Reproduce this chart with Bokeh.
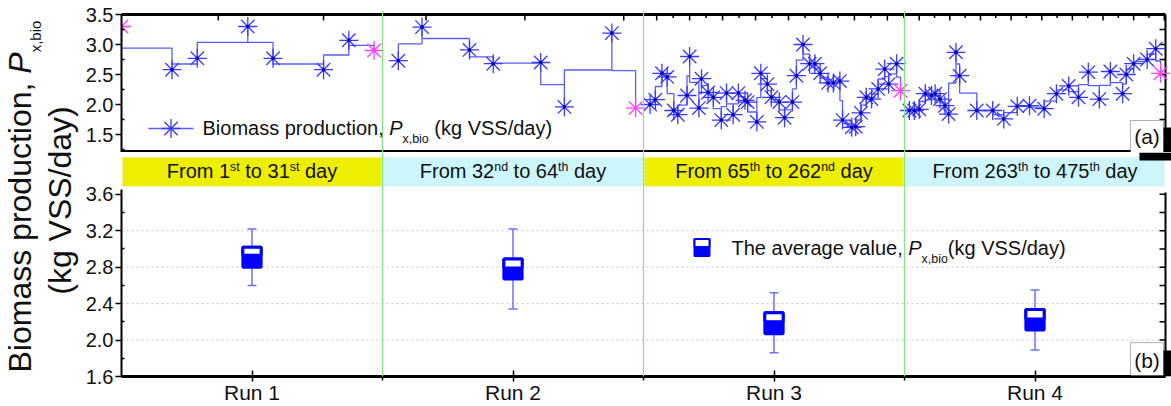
import math
from bokeh.plotting import figure
from bokeh.models import (Range1d, LinearAxis, FixedTicker, Span, BoxAnnotation, Label)
from bokeh.layouts import row, column
from bokeh.embed import file_html
from bokeh.resources import INLINE

# ---------------- data ----------------
RUN_NAMES = ["Run 1", "Run 2", "Run 3", "Run 4"]
RUN_BOUNDS = [1, 32, 65, 263, 476]          # day boundaries of each run
BAND_TEXT = [
    [("From 1", "n"), ("st", "sup"), (" to 31", "n"), ("st", "sup"), (" day", "n")],
    [("From 32", "n"), ("nd", "sup"), (" to 64", "n"), ("th", "sup"), (" day", "n")],
    [("From 65", "n"), ("th", "sup"), (" to 262", "n"), ("nd", "sup"), (" day", "n")],
    [("From 263", "n"), ("th", "sup"), (" to 475", "n"), ("th", "sup"), (" day", "n")],
]

run1_day = [1, 7, 10, 16, 19, 25, 28, 31]
run1_val = [3.30, 2.58, 2.77, 3.30, 2.77, 2.58, 3.07, 2.90]
run2_day = [34, 37, 43, 46, 52, 55, 61, 64]
run2_val = [2.73, 3.29, 2.91, 2.68, 2.70, 1.96, 3.19, 1.94]
run3_day = [70, 74, 79, 83, 88, 91, 98, 100, 107, 109, 114, 118, 124, 128, 133, 137,
            142, 144, 151, 154, 159, 162, 168, 172, 178, 181, 186, 191, 195, 199,
            205, 209, 214, 216, 223, 226, 230, 234, 238, 243, 248, 251, 257, 260]
run3_val = [2.00, 2.08, 2.52, 2.46, 1.90, 1.83, 2.15, 2.80, 1.94, 2.43, 2.20, 2.12,
            1.74, 2.19, 1.83, 2.19, 2.07, 2.04, 1.71, 2.52, 2.34, 2.12, 2.04, 1.78,
            2.04, 2.48, 3.00, 2.68, 2.68, 2.52, 2.36, 2.36, 2.39, 1.74, 1.62, 1.63,
            1.86, 2.12, 2.09, 2.26, 2.59, 2.34, 2.68, 2.23]
run4_day = [267, 271, 275, 280, 285, 288, 292, 296, 299, 305, 308, 322, 335, 344,
            355, 365, 377, 387, 397, 405, 413, 422, 431, 441, 444, 450, 461, 468, 472]
run4_val = [1.90, 1.90, 1.92, 2.18, 2.15, 2.18, 2.09, 1.98, 1.84, 2.87, 2.48, 1.90,
            1.90, 1.76, 1.97, 1.98, 1.93, 2.18, 2.31, 2.12, 2.54, 2.09, 2.55, 2.18,
            2.50, 2.68, 2.75, 2.93, 2.52]

# box statistics of the average value per run
box_low = [2.60, 2.34, 1.86, 1.89]
box_q1 = [2.80, 2.67, 2.07, 2.11]
box_mid = [2.93, 2.79, 2.20, 2.23]
box_q3 = [3.02, 2.89, 2.30, 2.335]
box_high = [3.22, 3.22, 2.52, 2.55]

TOP_Y_TICKS = [1.5, 2.0, 2.5, 3.0, 3.5]
TOP_Y_LABELS = ["1.5", "2.0", "2.5", "3.0", "3.5"]
TOP_Y_RIGHT_TICKS = [1.25, 1.5, 1.75, 2.0, 2.25, 2.5, 2.75, 3.0, 3.25]
BOT_Y_TICKS = [1.6, 2.0, 2.4, 2.8, 3.2, 3.6]
BOT_Y_LABELS = ["1.6", "2.0", "2.4", "2.8", "3.2", "3.6"]
BOT_Y_RIGHT_TICKS = [1.8, 2.0, 2.2, 2.4, 2.6, 2.8, 3.0, 3.2, 3.4, 3.6]
BOT_GRID = [2.0, 2.4, 2.8, 3.2]
TOP_X_TICK_STEP = 12.5     # days between ticks of the top (day) axis

# ---------------- helpers ----------------
FONT = "Liberation Sans"
ARIAL = {' ': 278, '(': 333, ')': 333, ',': 278, '.': 278, '/': 278, 'B': 667, 'F': 611,
         'P': 667, 'R': 722, 'S': 667, 'T': 611, 'V': 667, 'a': 556, 'b': 556, 'c': 500,
         'd': 556, 'e': 556, 'g': 556, 'h': 556, 'i': 222, 'k': 500, 'l': 222, 'm': 833,
         'n': 556, 'o': 556, 'p': 556, 'r': 333, 's': 500, 't': 278, 'u': 556, 'v': 500,
         'x': 500, 'y': 500}
BASE_FIX = 0.36     # empirical baseline correction (fraction of font size)


def tw(s, size):
    return sum(ARIAL.get(c, 556) for c in s) * size / 1000.0


def rich(fig, x0, y0, pieces, size, xr="default", yr="default", align="left",
         vertical=False, sub_drop=None, sup_rise=None, small=0.62, sub_size=None):
    if sub_drop is None:
        sub_drop = 0.42 * size
    if sup_rise is None:
        sup_rise = 0.36 * size
    if sub_size is None:
        sub_size = size * small
    sizes = [sub_size if k in ("sub", "sup") else size for _, k in pieces]
    total = sum(tw(t, s) for (t, _), s in zip(pieces, sizes))
    p = x0 if not vertical else y0
    if align == "center":
        p -= total / 2
    for (t, k), s in zip(pieces, sizes):
        lead = len(t) - len(t.lstrip(" "))
        body = t.strip(" ")
        start = p + tw(" " * lead, s)
        off = sub_drop if k == "sub" else (-sup_rise if k == "sup" else 0)
        off -= BASE_FIX * s
        kw = dict(text=body, text_font=FONT, text_font_size=f"{s:.1f}px",
                  text_font_style="italic" if k == "i" else "normal",
                  text_baseline="alphabetic", text_align="left", text_color="#111111")
        if xr != "default":
            kw["x_range_name"] = xr
        if yr != "default":
            kw["y_range_name"] = yr
        if vertical:
            fig.add_layout(Label(x=x0 + off, y=start, angle=math.pi / 2, **kw))
        else:
            fig.add_layout(Label(x=start, y=y0 + off, **kw))
        p += tw(t, s)


def pos(day, k):
    return k + (day - RUN_BOUNDS[k]) / (RUN_BOUNDS[k + 1] - RUN_BOUNDS[k])


def step_vcenter(xs, ys):
    px, py = [xs[0]], [ys[0]]
    for i in range(len(xs) - 1):
        m = (ys[i] + ys[i + 1]) / 2.0
        px += [xs[i], xs[i + 1], xs[i + 1]]
        py += [m, m, ys[i + 1]]
    return px, py


# layout constants (page pixels)
TITLE_W = 82
PX0, PX1, PXE = 121, 1165, 1171
TOP_FT, TOP_Y0, TOP_Y1 = 10, 14, 152
BOT_Y1 = 377
W_FIG = 1171 - TITLE_W
XPP = 4.0 / (PX1 - PX0)            # data units per px horizontally
XMAX = 4.0 + (PXE - PX1) * XPP
TPU = 60.0                          # px per unit, top panel
BPU = 91.5                          # px per unit, bottom panel

LINE_C = "#5c5cff"
STAR_C = "#3a3aff"
MAG_C = "#ff40ff"
GREEN = "#80e880"

# ---------------- title strip ----------------
tfig = figure(width=TITLE_W, height=406, x_range=Range1d(0, TITLE_W), y_range=Range1d(0, 406),
              min_border=0, x_axis_type=None, y_axis_type=None, output_backend="svg",
              toolbar_location=None, outline_line_color=None)
tfig.grid.visible = False
rich(tfig, 31, 406 - 372, [("Biomass production, ", "n"), ("P", "i"), ("x,bio", "sub")],
     32, vertical=True, sub_drop=9, sub_size=15)
rich(tfig, 71, 406 - 200, [("(kg VSS/day)", "n")], 32, vertical=True, align="center")

# ---------------- top panel ----------------
top = figure(width=W_FIG, height=TOP_Y1, x_range=Range1d(0, XMAX),
             y_range=Range1d(3.5 - (TOP_Y1 - TOP_Y0) / TPU, 3.5 + (TOP_Y0 - TOP_FT) / TPU),
             min_border_left=PX0 - TITLE_W, min_border_right=0,
             min_border_top=TOP_FT, min_border_bottom=0,
             x_axis_type=None, y_axis_type=None, output_backend="svg", toolbar_location=None)
top.extra_x_ranges = {"px": Range1d(PX0, PXE)}
top.extra_y_ranges = {"py": Range1d(TOP_Y1, TOP_FT)}
top.outline_line_color = None
top.grid.visible = False
ybot = 3.5 - (TOP_Y1 - TOP_Y0) / TPU

yl = LinearAxis(ticker=FixedTicker(ticks=TOP_Y_TICKS,
                                   minor_ticks=[t + 0.25 for t in TOP_Y_TICKS[:-1]] + [1.25]),
                major_label_overrides=dict(zip(TOP_Y_TICKS, TOP_Y_LABELS)),
                bounds=(ybot, 3.5))
yl.axis_line_width = 2
yl.major_tick_line_width = 1.5
yl.minor_tick_line_width = 1.5
yl.major_tick_out, yl.major_tick_in = 6, 0
yl.minor_tick_out, yl.minor_tick_in = 0, 3
yl.major_label_text_font = FONT
yl.major_label_text_font_size = "20px"
yl.major_label_standoff = 2
yl.major_label_text_color = "#111111"
top.add_layout(yl, "left")

# frame lines of panel (a)
top.segment([0, 4, 0], [3.5, ybot, ybot + 1.0 / TPU], [4, 4, 4], [3.5, 3.5, ybot + 1.0 / TPU],
            line_color="black", line_width=[3, 2, 3])
# ticks of the day axis (top, pointing inward)
maj, mnr = [], []
n = 1
while n * TOP_X_TICK_STEP < RUN_BOUNDS[-1]:
    d = n * TOP_X_TICK_STEP
    for k in range(4):
        if RUN_BOUNDS[k] < d < RUN_BOUNDS[k + 1]:
            (maj if (d % 25 == 0 or k < 2) else mnr).append(pos(d, k))
    n += 1
top.segment(maj, [3.5] * len(maj), maj, [3.5 - 6 / TPU] * len(maj), line_color="black",
            line_width=1.5)
top.segment(mnr, [3.5] * len(mnr), mnr, [3.5 - 3.5 / TPU] * len(mnr), line_color="black",
            line_width=1.5)
# right-hand ticks
top.segment([4] * len(TOP_Y_RIGHT_TICKS), TOP_Y_RIGHT_TICKS,
            [4 - 6 * XPP] * len(TOP_Y_RIGHT_TICKS), TOP_Y_RIGHT_TICKS,
            line_color="black", line_width=1.5)

for k in range(1, 4):
    top.add_layout(Span(location=k, dimension="height", line_color=GREEN, line_width=1.2))

runs = [(run1_day, run1_val), (run2_day, run2_val), (run3_day, run3_val), (run4_day, run4_val)]
for k, (dd, vv) in enumerate(runs):
    xs = [pos(d, k) for d in dd]
    lx, ly = step_vcenter(xs, vv)
    top.line(lx, ly, line_color=LINE_C, line_width=1.3)
    hi = [len(xs) - 1] + ([0] if k == 0 else [])
    bx = [x for i, x in enumerate(xs) if i not in hi]
    by = [v for i, v in enumerate(vv) if i not in hi]
    top.scatter(bx, by, marker="asterisk", size=19, line_color=STAR_C, line_width=1.3)
    top.scatter(bx, by, marker="circle", size=3.5, fill_color="#0000b0", line_color=None)
    top.scatter([xs[i] for i in hi], [vv[i] for i in hi], marker="asterisk", size=19,
                line_color=MAG_C, line_width=1.3)

# legend (top)
top.line([148, 193], [128, 128], x_range_name="px", y_range_name="py",
         line_color=LINE_C, line_width=1.3)
top.scatter([170.5], [128], x_range_name="px", y_range_name="py", marker="asterisk",
            size=19, line_color=STAR_C, line_width=1.3)
rich(top, 202, 135, [("Biomass production, ", "n"), ("P", "i"), ("x,bio", "sub"),
                     (" (kg VSS/day)", "n")], 20, xr="px", yr="py", sub_drop=8)

# (a) box with shadow
top.add_layout(BoxAnnotation(left=1139, right=PXE, top=127, bottom=TOP_Y1, x_range_name="px",
                             y_range_name="py", fill_color="black", fill_alpha=1,
                             line_color=None, level="annotation"))
top.add_layout(BoxAnnotation(left=1130, right=1163, top=120, bottom=152.5, x_range_name="px",
                             y_range_name="py", fill_color="white", fill_alpha=1,
                             line_color="black", line_width=1, level="annotation"))
rich(top, 1146.5, 144, [("(a)", "n")], 21, xr="px", yr="py", align="center")

# ---------------- bottom panel ----------------
bh = 406 - TOP_Y1
bot = figure(width=W_FIG, height=bh, x_range=Range1d(0, XMAX),
             y_range=Range1d(1.6, 1.6 + (BOT_Y1 - TOP_Y1) / BPU),
             min_border_left=PX0 - TITLE_W, min_border_right=0,
             min_border_top=0, min_border_bottom=406 - BOT_Y1,
             x_axis_type=None, y_axis_type=None, output_backend="svg", toolbar_location=None)
bot.extra_x_ranges = {"px": Range1d(PX0, PXE)}
bot.extra_y_ranges = {"py": Range1d(BOT_Y1, TOP_Y1)}
bot.outline_line_color = None
bot.grid.visible = False

band_b = 1.6 + (BOT_Y1 - 186) / BPU
band_t = 1.6 + (BOT_Y1 - 157) / BPU
band_cols = ["#eeee00", "#ccf6fb", "#eeee00", "#ccf6fb"]
for k in range(4):
    bot.add_layout(BoxAnnotation(left=k + 0.004, right=k + 0.996, bottom=band_b, top=band_t,
                                 fill_color=band_cols[k], fill_alpha=1,
                                 line_color="#d8d8a0", line_dash="2 2", line_width=1,
                                 level="underlay"))
    cx = PX0 + (k + 0.5) * (PX1 - PX0) / 4
    rich(bot, cx, 178, BAND_TEXT[k], 20, xr="px", yr="py", align="center", sup_rise=7)

# dotted grid
bot.segment([0] * len(BOT_GRID), BOT_GRID, [4] * len(BOT_GRID), BOT_GRID,
            line_color="#c4c4c4", line_dash="2 3", line_width=1)

byl = LinearAxis(ticker=FixedTicker(ticks=BOT_Y_TICKS,
                                    minor_ticks=[t + 0.2 for t in BOT_Y_TICKS[:-1]]),
                 major_label_overrides=dict(zip(BOT_Y_TICKS, BOT_Y_LABELS)),
                 bounds=(1.6, 3.65))
bot.add_layout(byl, "left")
bxa = LinearAxis(ticker=FixedTicker(ticks=[k + 0.5 for k in range(4)], minor_ticks=[1, 2, 3]),
                 major_label_overrides={k + 0.5: RUN_NAMES[k] for k in range(4)},
                 bounds=(0, 4))
bot.add_layout(bxa, "below")
for ax in (byl, bxa):
    ax.axis_line_width = 2
    ax.major_tick_line_width = 1.5
    ax.minor_tick_line_width = 1.5
    ax.major_label_text_font = FONT
    ax.major_label_text_color = "#111111"
byl.major_tick_out, byl.major_tick_in = 6, 0
byl.minor_tick_out, byl.minor_tick_in = 0, 3
byl.major_label_text_font_size = "20px"
byl.major_label_standoff = 2
bxa.axis_line_width = 3
bxa.major_tick_out, bxa.major_tick_in = 5, 6
bxa.minor_tick_out, bxa.minor_tick_in = 4, 0
bxa.major_label_text_font_size = "21px"
bxa.major_label_standoff = -1

# right frame line and inward ticks
bot.segment([4], [1.6], [4], [3.62], line_color="black", line_width=2)
bot.segment([4] * len(BOT_Y_RIGHT_TICKS), BOT_Y_RIGHT_TICKS,
            [4 - 6 * XPP] * len(BOT_Y_RIGHT_TICKS), BOT_Y_RIGHT_TICKS,
            line_color="black", line_width=1.5)

for k in range(1, 4):
    bot.add_layout(Span(location=k, dimension="height", line_color=GREEN, line_width=1.2))

bx = [k + 0.5 for k in range(4)]
bot.segment(bx, box_low, bx, box_high, line_color="#7070ff", line_width=1.5)
bot.scatter(bx, box_low, marker="dash", size=9, line_color="#7070ff", line_width=1.5)
bot.scatter(bx, box_high, marker="dash", size=9, line_color="#7070ff", line_width=1.5)
bot.vbar(x=bx, width=0.07, bottom=box_q1, top=box_q3, fill_color="#0000ff",
         line_color="#0000ff", line_width=3)
bot.vbar(x=bx, width=0.07, bottom=box_mid, top=box_q3, fill_color="white",
         line_color="#0000ff", line_width=3)

# legend (bottom)
bot.quad(left=[694], right=[709], top=[239], bottom=[256], x_range_name="px", y_range_name="py",
         fill_color="#0000ff", line_color="#0000ff", line_width=2)
bot.quad(left=[694], right=[709], top=[239], bottom=[247], x_range_name="px", y_range_name="py",
         fill_color="white", line_color="#0000ff", line_width=2)
rich(bot, 731, 255, [("The average value, ", "n"), ("P", "i"), ("x,bio", "sub"),
                     ("(kg VSS/day)", "n")], 20, xr="px", yr="py", sub_drop=8)

# (b) box with shadow, and the lower part of the (a) shadow
bot.add_layout(BoxAnnotation(left=1139, right=PXE, top=TOP_Y1, bottom=160, x_range_name="px",
                             y_range_name="py", fill_color="black", fill_alpha=1,
                             line_color=None, level="annotation"))
bot.add_layout(BoxAnnotation(left=1139, right=PXE, top=351, bottom=BOT_Y1, x_range_name="px",
                             y_range_name="py", fill_color="black", fill_alpha=1,
                             line_color=None, level="annotation"))
bot.add_layout(BoxAnnotation(left=1130, right=1163, top=343, bottom=376, x_range_name="px",
                             y_range_name="py", fill_color="white", fill_alpha=1,
                             line_color="black", line_width=1, level="annotation"))
rich(bot, 1146.5, 368, [("(b)", "n")], 21, xr="px", yr="py", align="center")

layout = row(tfig, column(top, bot, spacing=0), spacing=0)
open("out.html", "w").write(file_html(layout, INLINE))
